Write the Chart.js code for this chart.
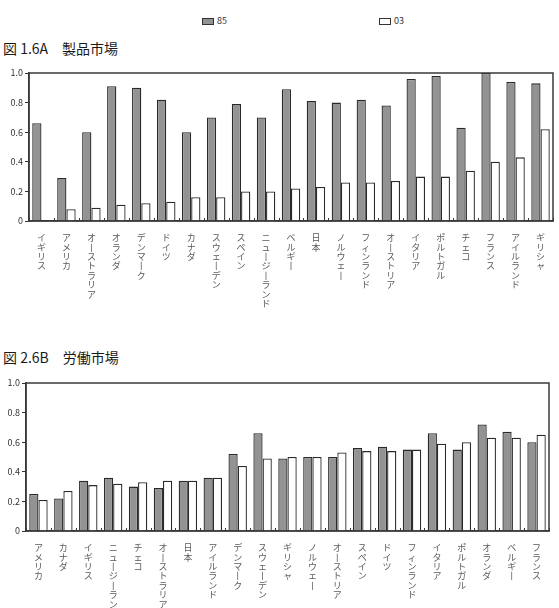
<!DOCTYPE html>
<html><head><meta charset="utf-8">
<script src="https://cdn.jsdelivr.net/npm/chart.js@4/dist/chart.umd.min.js"></script>
<style>
html,body{margin:0;padding:0;background:#fff;}
body{width:559px;height:608px;overflow:hidden;position:relative;font-family:"Noto Sans CJK JP","Noto Sans",sans-serif;}
.title{position:absolute;left:3px;font-size:14px;line-height:14px;color:#1a1a1a;white-space:pre;}
#legend{position:absolute;top:15px;left:202px;display:flex;gap:152px;font-size:9px;line-height:12px;color:#333;}
#legend .item{display:flex;align-items:center;}
#legend .box{width:12px;height:7px;box-sizing:border-box;border:1px solid #333;margin-right:3px;}
.wrap{position:absolute;left:0;width:559px;}
</style>
</head><body>
<div id="legend"></div>
<div class="title" id="t1" style="top:41px"></div>
<div class="wrap" style="top:62px;height:268px"><canvas id="c1" width="559" height="268"></canvas></div>
<div class="title" id="t2" style="top:350px"></div>
<div class="wrap" style="top:372px;height:236px"><canvas id="c2" width="559" height="236"></canvas></div>
<script>
// ---- data ----
const seriesNames = ['85', '03'];
const titleA = '図 1.6A　製品市場';
const titleB = '図 2.6B　労働市場';
const productCategories = ['イギリス','アメリカ','オーストラリア','オランダ','デンマーク','ドイツ','カナダ','スウェーデン','スペイン','ニュージーランド','ベルギー','日本','ノルウェー','フィンランド','オーストリア','イタリア','ポルトガル','チェコ','フランス','アイルランド','ギリシャ'];
const product85 = [0.66,0.29,0.60,0.91,0.90,0.82,0.60,0.70,0.79,0.70,0.89,0.81,0.80,0.82,0.78,0.96,0.98,0.63,1.00,0.94,0.93];
const product03 = [0,0.08,0.09,0.11,0.12,0.13,0.16,0.16,0.20,0.20,0.22,0.23,0.26,0.26,0.27,0.30,0.30,0.34,0.40,0.43,0.62];
const laborCategories = ['アメリカ','カナダ','イギリス','ニュージーランド','チェコ','オーストラリア','日本','アイルランド','デンマーク','スウェーデン','ギリシャ','ノルウェー','オーストリア','スペイン','ドイツ','フィンランド','イタリア','ポルトガル','オランダ','ベルギー','フランス'];
const labor85 = [0.25,0.22,0.34,0.36,0.30,0.29,0.34,0.36,0.52,0.66,0.49,0.50,0.50,0.56,0.57,0.55,0.66,0.55,0.72,0.67,0.60];
const labor03 = [0.21,0.27,0.31,0.32,0.33,0.34,0.34,0.36,0.44,0.49,0.50,0.50,0.53,0.54,0.54,0.55,0.59,0.60,0.63,0.63,0.65];
const yTickValues = [0, 0.2, 0.4, 0.6, 0.8, 1.0];

// ---- styles ----
const fillColors = ['#939393', '#ffffff'];
const edgeColor = '#2a2a2a';

document.getElementById('t1').textContent = titleA;
document.getElementById('t2').textContent = titleB;

// legend
const lg = document.getElementById('legend');
seriesNames.forEach((n, i) => {
  const it = document.createElement('div'); it.className = 'item';
  const b = document.createElement('span'); b.className = 'box'; b.style.background = fillColors[i];
  const t = document.createElement('span'); t.textContent = n;
  it.appendChild(b); it.appendChild(t); lg.appendChild(it);
});

// vertical label: one character per line, long vowel mark drawn vertically
const vert = s => Array.from(s).map(ch => ch === 'ー' ? '丨' : ch);

const frame = {
  id: 'frame',
  afterDatasetsDraw(chart) {
    const {ctx, chartArea: a, scales: {x}} = chart;
    ctx.save();
    ctx.strokeStyle = '#3a3a3a';
    ctx.lineWidth = 1;
    const n = chart.data.labels.length;
    for (let i = 0; i <= n; i++) {
      const px = Math.round(x.getPixelForValue(i - 0.5)) + 0.5;
      ctx.beginPath(); ctx.moveTo(px, a.bottom); ctx.lineTo(px, a.bottom - 3); ctx.stroke();
    }
    ctx.lineWidth = 1.5;
    ctx.strokeRect(a.left, a.top, a.right - a.left, a.bottom - a.top);
    ctx.restore();
  }
};

function makeChart(id, cats, s85, s03, yWidth, xHeight, padRight) {
  return new Chart(document.getElementById(id), {
    type: 'bar',
    data: {
      labels: cats.map(vert),
      datasets: [
        {label: seriesNames[0], data: s85, backgroundColor: fillColors[0], borderColor: edgeColor, borderWidth: 1.3, categoryPercentage: 0.74, barPercentage: 1.0},
        {label: seriesNames[1], data: s03, backgroundColor: fillColors[1], borderColor: edgeColor, borderWidth: 1.3, categoryPercentage: 0.74, barPercentage: 1.0}
      ]
    },
    options: {
      responsive: false,
      animation: false,
      devicePixelRatio: 1,
      layout: {padding: {top: 11, right: padRight, left: 0, bottom: 0}},
      plugins: {legend: {display: false}, tooltip: {enabled: false}, title: {display: false}},
      scales: {
        x: {
          type: 'category',
          offset: true,
          grid: {display: false},
          border: {display: true, color: '#333', width: 1.5},
          ticks: {autoSkip: false, maxRotation: 0, minRotation: 0, padding: 4, color: '#5a5a5a',
                  font: {family: '"Noto Sans CJK JP"', size: 9, lineHeight: 1.05}},
          afterFit: s => { s.height = xHeight; }
        },
        y: {
          min: 0, max: 1,
          afterBuildTicks: s => { s.ticks = yTickValues.map(v => ({value: v})); },
          grid: {display: true, drawOnChartArea: false, drawTicks: true, tickLength: 4, color: '#333'},
          border: {display: true, color: '#333', width: 1.5},
          ticks: {padding: 2, color: '#333', font: {family: '"Noto Sans CJK JP"', size: 9},
                  callback: v => v === 0 ? '0' : Number(v).toFixed(1)},
          afterFit: s => { s.width = yWidth; }
        }
      }
    },
    plugins: [frame]
  });
}

makeChart('c1', productCategories, product85, product03, 29, 109, 6);
makeChart('c2', laborCategories, labor85, labor03, 26, 77, 10);
</script>
</body></html>
